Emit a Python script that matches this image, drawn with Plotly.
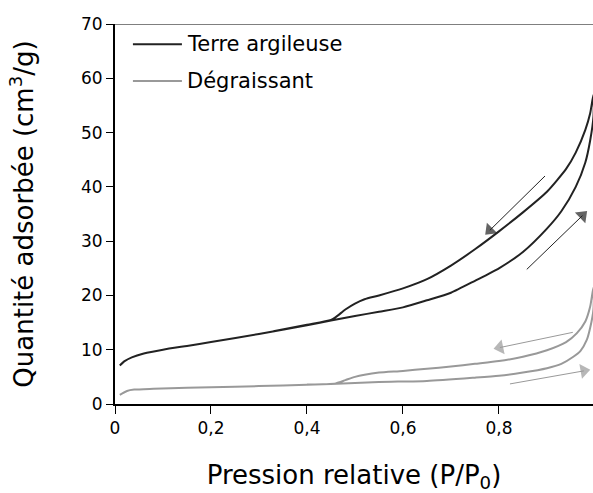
import plotly.graph_objects as go

# Terre argileuse: adsorption (P/P0 croissant) puis désorption (décroissant)
terre_ads_x = [0.01, 0.02, 0.035, 0.06, 0.1, 0.15, 0.2, 0.3, 0.4, 0.45, 0.5, 0.55,
               0.6, 0.65, 0.7, 0.75, 0.8, 0.85, 0.9, 0.93, 0.96, 0.98, 0.99, 0.997]
terre_ads_y = [7.1, 7.9, 8.6, 9.3, 10.0, 10.7, 11.4, 12.9, 14.5, 15.4, 16.2, 17.0,
               17.8, 19.1, 20.5, 22.7, 25.0, 28.0, 32.3, 35.5, 40.0, 44.5, 48.5, 53.0]
terre_des_x = [0.997, 0.99, 0.98, 0.96, 0.94, 0.9, 0.85, 0.8, 0.75, 0.7, 0.65,
               0.6, 0.55, 0.52, 0.5, 0.48, 0.46, 0.45, 0.4, 0.33]
terre_des_y = [57.0, 53.5, 50.5, 46.3, 43.3, 39.1, 35.3, 31.8, 28.5, 25.5, 23.0,
               21.3, 20.0, 19.3, 18.5, 17.4, 16.0, 15.5, 14.6, 13.4]

# Dégraissant
degr_ads_x = [0.01, 0.025, 0.04, 0.08, 0.15, 0.25, 0.35, 0.45, 0.55, 0.65, 0.75,
              0.8, 0.85, 0.9, 0.93, 0.955, 0.97, 0.983, 0.99, 0.997]
degr_ads_y = [1.7, 2.4, 2.65, 2.8, 3.0, 3.2, 3.4, 3.7, 4.05, 4.25, 4.85,
              5.2, 5.8, 6.6, 7.4, 8.7, 9.8, 11.8, 14.0, 17.5]
degr_des_x = [0.997, 0.99, 0.98, 0.962, 0.94, 0.9, 0.85, 0.8, 0.75, 0.7, 0.65,
              0.6, 0.55, 0.52, 0.5, 0.48, 0.46, 0.4]
degr_des_y = [21.5, 17.9, 15.2, 13.0, 11.4, 9.9, 8.7, 7.9, 7.4, 6.9, 6.5,
              6.1, 5.8, 5.4, 5.0, 4.4, 3.8, 3.6]

series_names = ["Terre argileuse", "Dégraissant"]
series_colors = ["#222222", "#999999"]

# flèches (queue -> pointe) indiquant le sens adsorption / désorption
arrow_tail_x = [0.896, 0.858, 0.954, 0.823]
arrow_tail_y = [42.0, 24.8, 13.2, 3.7]
arrow_head_x = [0.781, 0.974, 0.802, 0.977]
arrow_head_y = [32.0, 34.7, 10.4, 6.1]
arrow_series = [0, 0, 1, 1]

x_ticks = [0, 0.2, 0.4, 0.6, 0.8, 1]
y_ticks = [0, 10, 20, 30, 40, 50, 60, 70]

FONT = "DejaVu Sans, Verdana, sans-serif"

fig = go.Figure()
curves = [
    (terre_ads_x + terre_des_x, terre_ads_y + terre_des_y),
    (degr_ads_x + degr_des_x, degr_ads_y + degr_des_y),
]
for (cx, cy), name, color in zip(curves, series_names, series_colors):
    fig.add_trace(
        go.Scatter(
            x=cx, y=cy, mode="lines", name=name, showlegend=False,
            line=dict(color=color, width=2, shape="spline", smoothing=0.6),
        )
    )

for tx, ty, hx, hy, s in zip(arrow_tail_x, arrow_tail_y, arrow_head_x, arrow_head_y, arrow_series):
    fig.add_trace(
        go.Scatter(
            x=[tx, hx], y=[ty, hy], mode="lines+markers", showlegend=False,
            hoverinfo="skip", cliponaxis=False,
            line=dict(color=series_colors[s], width=1),
            marker=dict(symbol="triangle-up", angleref="previous", size=[0, 13],
                        color=series_colors[s], line=dict(width=0)),
        )
    )

# légende dessinée à la main (trait long comme dans l'original)
for i, (name, color) in enumerate(zip(series_names, series_colors)):
    ly = 0.947 - i * 0.097
    fig.add_shape(type="line", xref="paper", yref="paper", x0=0.0375, x1=0.14,
                  y0=ly, y1=ly, line=dict(color=color, width=2))
    fig.add_annotation(x=0.146, y=ly, xref="paper", yref="paper", text=name,
                       showarrow=False, xanchor="left", yanchor="middle",
                       font=dict(size=21, color="black"))

# trait fin en haut du cadre
fig.add_shape(
    type="line", xref="paper", yref="y", x0=-0.015, x1=1, y0=70, y1=70,
    line=dict(color="black", width=1),
)

fig.update_layout(
    width=593,
    height=493,
    margin=dict(l=115, r=0, t=24, b=89, autoexpand=False),
    separators=", ",
    font=dict(family=FONT, size=17, color="black"),
    plot_bgcolor="white",
    paper_bgcolor="white",
    xaxis=dict(
        range=[0, 0.996],
        tickvals=x_ticks,
        showgrid=False,
        zeroline=False,
        showline=True,
        linecolor="black",
        linewidth=2,
        ticks="outside",
        ticklen=8,
        tickwidth=1,
        tickcolor="black",
        tickfont=dict(size=17),
        title=dict(text="Pression relative (P/P<sub>0</sub>)", font=dict(size=26), standoff=30),
    ),
    yaxis=dict(
        range=[0, 70],
        tickvals=y_ticks,
        showgrid=False,
        zeroline=False,
        showline=True,
        linecolor="black",
        linewidth=2,
        ticks="outside",
        ticklen=7,
        tickwidth=1,
        tickcolor="black",
        tickfont=dict(size=17),
        title=dict(text="Quantité adsorbée (cm<sup>3</sup>/g)", font=dict(size=26), standoff=40),
    ),
)

# la page HTML ajoute une marge de 8 px autour du graphique : on la retire
fig.write_html(
    "out.html",
    config={"displayModeBar": False},
    post_script="document.body.style.margin = '0';",
)
